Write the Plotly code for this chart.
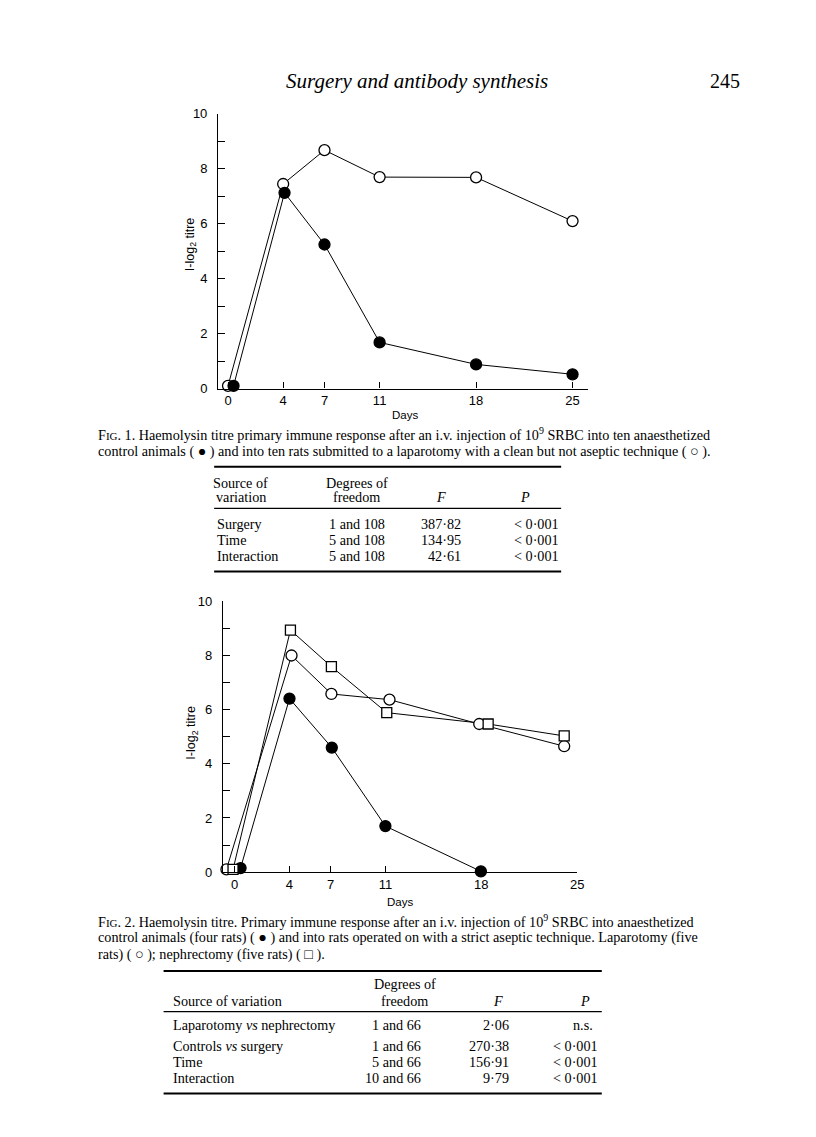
import plotly.graph_objects as go

W, H = 816, 1137

# ---------------- data ----------------
# Fig. 1
fig1_days_surgery = [0, 4, 7, 11, 18, 25]
fig1_surgery = [0.1, 7.44, 8.67, 7.69, 7.68, 6.09]
fig1_days_control = [0.4, 4.1, 7, 11, 18, 25]
fig1_control = [0.1, 7.12, 5.24, 1.68, 0.88, 0.52]

# Fig. 2
fig2_days_ctrl = [0.43, 4.0, 7.09, 11.0, 17.97]
fig2_ctrl = [0.15, 6.41, 4.6, 1.70, 0.03]
fig2_days_lap = [-0.6, 4.15, 7.06, 11.3, 17.85, 24.05]
fig2_lap = [0.1, 8.0, 6.58, 6.37, 5.47, 4.65]
fig2_days_neph = [-0.12, 4.07, 7.06, 11.1, 18.5, 24.05]
fig2_neph = [0.1, 8.94, 7.59, 5.89, 5.47, 5.03]

day_ticks = [0, 4, 7, 11, 18, 25]
day_ticktext = ["0", "4", "7", "11", "18", "25"]
y_ticks = [0, 2, 4, 6, 8, 10]
y_ticktext = ["0", "2", "4", "6", "8", "10"]

# Tables
table1_header_source = ["Source of", "variation"]
table1_header_df = ["Degrees of", "freedom"]
table1_source = ["Surgery", "Time", "Interaction"]
table1_df = ["1 and 108", "5 and 108", "5 and 108"]
table1_F = ["387·82", "134·95", "42·61"]
table1_P = ["< 0·001", "< 0·001", "< 0·001"]

table2_source = ["Laparotomy <i>vs</i> nephrectomy", "Controls <i>vs</i> surgery", "Time", "Interaction"]
table2_df = ["1 and 66", "1 and 66", "5 and 66", "10 and 66"]
table2_F = ["2·06", "270·38", "156·91", "9·79"]
table2_P = ["n.s.", "< 0·001", "< 0·001", "< 0·001"]

header_title = "Surgery and antibody synthesis"
page_number = "245"
caption1 = [
    "F<span style='font-size:11px'>IG</span>. 1. Haemolysin titre primary immune response after an i.v. injection of 10<sup>9</sup> SRBC into ten anaesthetized",
    "control animals ( ● ) and into ten rats submitted to a laparotomy with a clean but not aseptic technique ( ○ ).",
]
caption2 = [
    "F<span style='font-size:11px'>IG</span>. 2. Haemolysin titre. Primary immune response after an i.v. injection of 10<sup>9</sup> SRBC into anaesthetized",
    "control animals (four rats) ( ● ) and into rats operated on with a strict aseptic technique. Laparotomy (five",
    "rats) ( ○ ); nephrectomy (five rats) ( □ ).",
]

# ---------------- helpers ----------------
def px(x):
    return x / W

def py(y):
    return 1 - y / H

SERIF = "Liberation Serif"
SANS = "Liberation Sans"

fig = go.Figure()

def add_series(xs, ys, xa, ya, symbol, filled, size):
    fig.add_trace(go.Scatter(x=xs, y=ys, xaxis=xa, yaxis=ya, mode="lines",
                             line=dict(color="black", width=1), cliponaxis=False,
                             hoverinfo="skip", showlegend=False))

def add_markers(xs, ys, xa, ya, symbol, filled, size):
    fig.add_trace(go.Scatter(x=xs, y=ys, xaxis=xa, yaxis=ya, mode="markers",
                             marker=dict(symbol=symbol, size=size,
                                         color="black" if filled else "white",
                                         line=dict(color="black", width=1.3)),
                             cliponaxis=False, hoverinfo="skip", showlegend=False))

series1 = [
    (fig1_days_surgery, fig1_surgery, "circle", False, 11),
    (fig1_days_control, fig1_control, "circle", True, 11),
]
series2 = [
    (fig2_days_ctrl, fig2_ctrl, "circle", True, 11),
    (fig2_days_lap, fig2_lap, "circle", False, 11),
    (fig2_days_neph, fig2_neph, "square", False, 10),
]
for s in series1:
    add_series(*s[:2], "x", "y", *s[2:])
for s in series2:
    add_series(*s[:2], "x2", "y2", *s[2:])
for s in series1:
    add_markers(*s[:2], "x", "y", *s[2:])
for s in series2:
    add_markers(*s[:2], "x2", "y2", *s[2:])

axis_common = dict(showline=True, linecolor="black", linewidth=1.3, ticks="inside",
                   tickcolor="black", tickwidth=1.3, showgrid=False, zeroline=False,
                   tickfont=dict(family=SANS, size=13, color="black"), fixedrange=True)
y_minor = dict(dtick=1, ticks="inside", ticklen=7, tickcolor="black", tickwidth=1.3, showgrid=False)

# chart 1 geometry (pixels)
c1_x0, c1_x1 = 220, 593
c1_day0, c1_ppd = 230, 13.9
c1_ytop, c1_ybot = 108, 386.7
# chart 2 geometry
c2_x0, c2_x1 = 225, 582.3
c2_day0, c2_ppd = 236.7, 13.82
c2_ytop, c2_ybot = 602.3, 876.7

fig.update_layout(
    width=W, height=H, margin=dict(l=0, r=0, t=0, b=0),
    paper_bgcolor="white", plot_bgcolor="rgba(0,0,0,0)",
    xaxis=dict(domain=[px(c1_x0), px(c1_x1)],
               range=[(c1_x0 - c1_day0) / c1_ppd, (c1_x1 - c1_day0) / c1_ppd],
               tickvals=day_ticks, ticktext=day_ticktext, ticklen=6, anchor="y", **axis_common),
    yaxis=dict(domain=[py(c1_ybot), py(c1_ytop)], range=[0, 10],
               tickvals=y_ticks, ticktext=y_ticktext, ticklen=7, ticklabelstandoff=7,
               minor=y_minor, anchor="x", **axis_common),
    xaxis2=dict(domain=[px(c2_x0), px(c2_x1)],
                range=[(c2_x0 - c2_day0) / c2_ppd, (c2_x1 - c2_day0) / c2_ppd],
                tickvals=day_ticks, ticktext=day_ticktext, ticklen=6, anchor="y2", **axis_common),
    yaxis2=dict(domain=[py(c2_ybot), py(c2_ytop)], range=[0, 10],
                tickvals=y_ticks, ticktext=y_ticktext, ticklen=7, ticklabelstandoff=7,
                minor=y_minor, anchor="x2", **axis_common),
)

ann = []
def text(x, y, s, size=14.2, family=SERIF, xanchor="left", angle=0):
    ann.append(dict(x=px(x), y=py(y), xref="paper", yref="paper", text=s, showarrow=False,
                    xanchor=xanchor, yanchor="middle", textangle=angle,
                    font=dict(family=family, size=size, color="black")))

# page header
text(421, 75, "<i>%s</i>" % header_title, size=21, xanchor="center")
text(731, 75, page_number, size=20, xanchor="center")

# axis titles
text(408, 413, "Days", size=11.5, family=SANS, xanchor="center")
text(192, 240, "I-log<sub>2</sub> titre", size=12.5, family=SANS, xanchor="center", angle=-90)
text(403, 907, "Days", size=11.5, family=SANS, xanchor="center")
text(194, 735, "I-log<sub>2</sub> titre", size=12.5, family=SANS, xanchor="center", angle=-90)

# captions
for i, line in enumerate(caption1):
    text(97, 433 + 17 * i, line)
for i, line in enumerate(caption2):
    text(97, 926 + 17 * i, line)

# table 1
t1_rows_y = [524, 540, 556]
text(243, 482, table1_header_source[0], xanchor="center")
text(243, 497, table1_header_source[1], xanchor="center")
text(360, 482, table1_header_df[0], xanchor="center")
text(360, 497, table1_header_df[1], xanchor="center")
text(445, 497, "<i>F</i>", xanchor="center")
text(530, 497, "<i>P</i>", xanchor="center")
for yy, a, b, c, d in zip(t1_rows_y, table1_source, table1_df, table1_F, table1_P):
    text(217, yy, a)
    text(330, yy, b)
    text(467, yy, c, xanchor="right")
    text(566, yy, d, xanchor="right")

# table 2
t2_rows_y = [1032, 1053, 1069, 1085]
text(172, 1007, "Source of variation")
text(408, 990, "Degrees of", xanchor="center")
text(408, 1007, "freedom", xanchor="center")
text(502, 1007, "<i>F</i>", xanchor="center")
text(590, 1007, "<i>P</i>", xanchor="center")
for yy, a, b, c, d in zip(t2_rows_y, table2_source, table2_df, table2_F, table2_P):
    text(172, yy, a)
    text(427, yy, b, xanchor="right")
    text(515, yy, c, xanchor="right")
    if d == "n.s.":
        text(588, yy, d, xanchor="center")
    else:
        text(605, yy, d, xanchor="right")

fig.update_layout(annotations=ann)

shapes = []
def rule(x0, x1, y, w):
    shapes.append(dict(type="line", xref="paper", yref="paper", x0=px(x0), x1=px(x1),
                       y0=py(y), y1=py(y), line=dict(color="black", width=w)))

rule(216, 566, 466, 2)
rule(216, 566, 508, 1.2)
rule(216, 566, 572, 2)
rule(165, 607, 977, 2)
rule(165, 607, 1018, 1.2)
rule(165, 607, 1101, 2)
fig.update_layout(shapes=shapes)

fig.write_html("out.html", config={"displayModeBar": False},
               post_script="document.body.style.margin='0';")
